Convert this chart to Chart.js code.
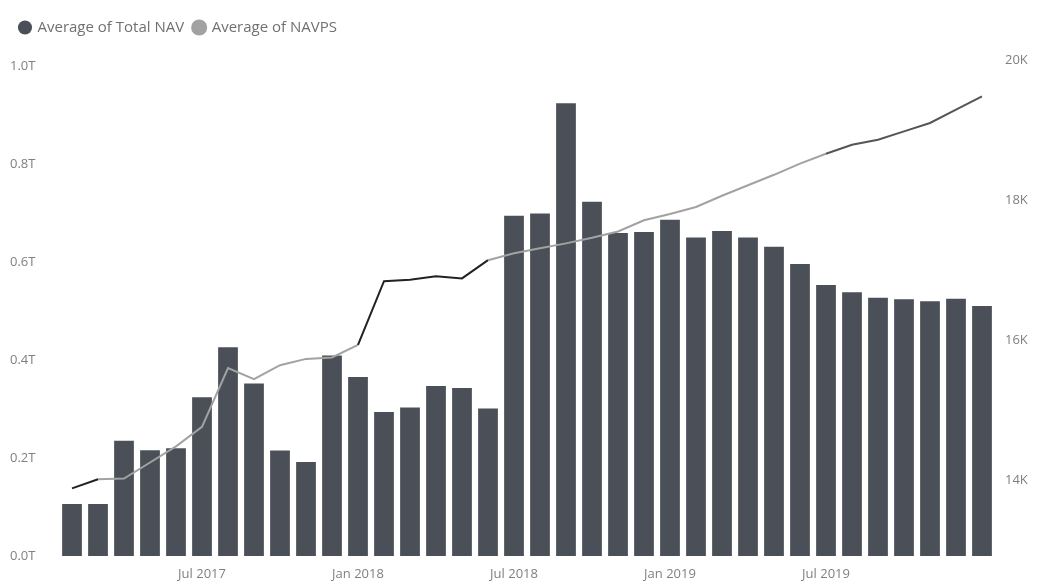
<!DOCTYPE html>
<html>
<head>
<meta charset="utf-8">
<script src="https://cdn.jsdelivr.net/npm/chart.js@4/dist/chart.umd.min.js"></script>
<style>
html,body{margin:0;padding:0;background:#fff;}
#wrap{width:1040px;height:582px;position:relative;}
</style>
</head>
<body>
<div id="wrap"><canvas id="c"></canvas></div>
<script>
// Months Feb 2017 .. Jan 2020
const months = [
  "Feb 2017","Mar 2017","Apr 2017","May 2017","Jun 2017","Jul 2017","Aug 2017","Sep 2017","Oct 2017","Nov 2017","Dec 2017",
  "Jan 2018","Feb 2018","Mar 2018","Apr 2018","May 2018","Jun 2018","Jul 2018","Aug 2018","Sep 2018","Oct 2018","Nov 2018","Dec 2018",
  "Jan 2019","Feb 2019","Mar 2019","Apr 2019","May 2019","Jun 2019","Jul 2019","Aug 2019","Sep 2019","Oct 2019","Nov 2019","Dec 2019",
  "Jan 2020"
];
const shownLabels = ["Jul 2017","Jan 2018","Jul 2018","Jan 2019","Jul 2019"];

// Average of Total NAV (trillions)
const totalNAV = [
  0.106,0.106,0.235,0.216,0.220,0.324,0.426,0.352,0.215,0.192,0.409,
  0.365,0.294,0.303,0.347,0.343,0.301,0.694,0.699,0.924,0.723,0.659,0.661,
  0.686,0.650,0.663,0.650,0.631,0.596,0.553,0.538,0.527,0.524,0.520,0.525,
  0.510
];
// Average of NAVPS
const navps = [
  13880,14010,14020,14250,14480,14760,15600,15440,15640,15730,15750,
  15930,16840,16860,16910,16880,17140,17240,17310,17380,17460,17550,17710,
  17800,17900,18060,18210,18360,18520,18660,18790,18860,18980,19100,19290,
  19480
];

const leftTicks = [0,0.2,0.4,0.6,0.8,1.0];
const rightTicks = [14000,16000,18000,20000];

const blackSegments = [0,11,12,13,14,15];
const darkSegments = [29,30,31,32,33,34];

const font = {family:"'Open Sans', 'Noto Sans', sans-serif", size:13};

new Chart(document.getElementById('c'), {
  data: {
    labels: months,
    datasets: [
      {
        type:'line',
        label:'Average of NAVPS',
        data: navps,
        yAxisID:'y1',
        borderColor:'#a2a2a2',
        backgroundColor:'#a2a2a2',
        borderWidth:2,
        pointRadius:0,
        tension:0,
        segment:{
          borderColor: ctx => blackSegments.includes(ctx.p0DataIndex) ? '#222' :
                              (darkSegments.includes(ctx.p0DataIndex) ? '#555' : '#a2a2a2')
        },
        order:0
      },
      {
        type:'bar',
        label:'Average of Total NAV',
        data: totalNAV,
        yAxisID:'y',
        backgroundColor:'#4b5058',
        borderWidth:0,
        barPercentage:0.76,
        categoryPercentage:1.0,
        order:1
      }
    ]
  },
  options: {
    responsive:true,
    maintainAspectRatio:false,
    animation:false,
    layout:{padding:{top:10,left:10,right:0,bottom:0}},
    plugins:{
      legend:{
        display:true,
        position:'top',
        align:'start',
        reverse:true,
        labels:{
          usePointStyle:true,
          pointStyle:'circle',
          boxWidth:10,
          boxHeight:10,
          padding:10,
          color:'#707070',
          font:{family:font.family,size:15}
        }
      },
      tooltip:{enabled:false}
    },
    scales:{
      x:{
        type:'category',
        offset:true,
        grid:{display:false,drawTicks:false},
        border:{display:false},
        afterFit: s => { s.height = 26; },
        ticks:{
          autoSkip:false,
          maxRotation:0,
          padding:10,
          color:'#808080',
          font:font,
          callback:function(v,i){ const l=months[i]; return shownLabels.includes(l)?l:''; }
        }
      },
      y:{
        position:'left',
        min:0,
        max:1.012,
        grid:{display:false,drawTicks:false},
        border:{display:false},
        afterBuildTicks: s => { s.ticks = leftTicks.map(v=>({value:v})); },
        afterFit: s => { s.width = 49; },
        ticks:{
          crossAlign:'far',
          color:'#808080',
          font:font,
          callback: v => v.toFixed(1)+'T'
        }
      },
      y1:{
        position:'right',
        min:12914,
        max:20000,
        grid:{display:false,drawTicks:false},
        border:{display:false},
        afterBuildTicks: s => { s.ticks = rightTicks.map(v=>({value:v})); },
        afterFit: s => { s.width = 45; },
        ticks:{
          padding:10,
          color:'#808080',
          font:font,
          callback: v => (v/1000)+'K'
        }
      }
    }
  },
  plugins:[{
    id:'legendHeight',
    beforeInit(chart){
      const orig = chart.legend.fit;
      chart.legend.fit = function(){ orig.bind(chart.legend)(); this.height = 50; };
    }
  }]
});
</script>
</body>
</html>
